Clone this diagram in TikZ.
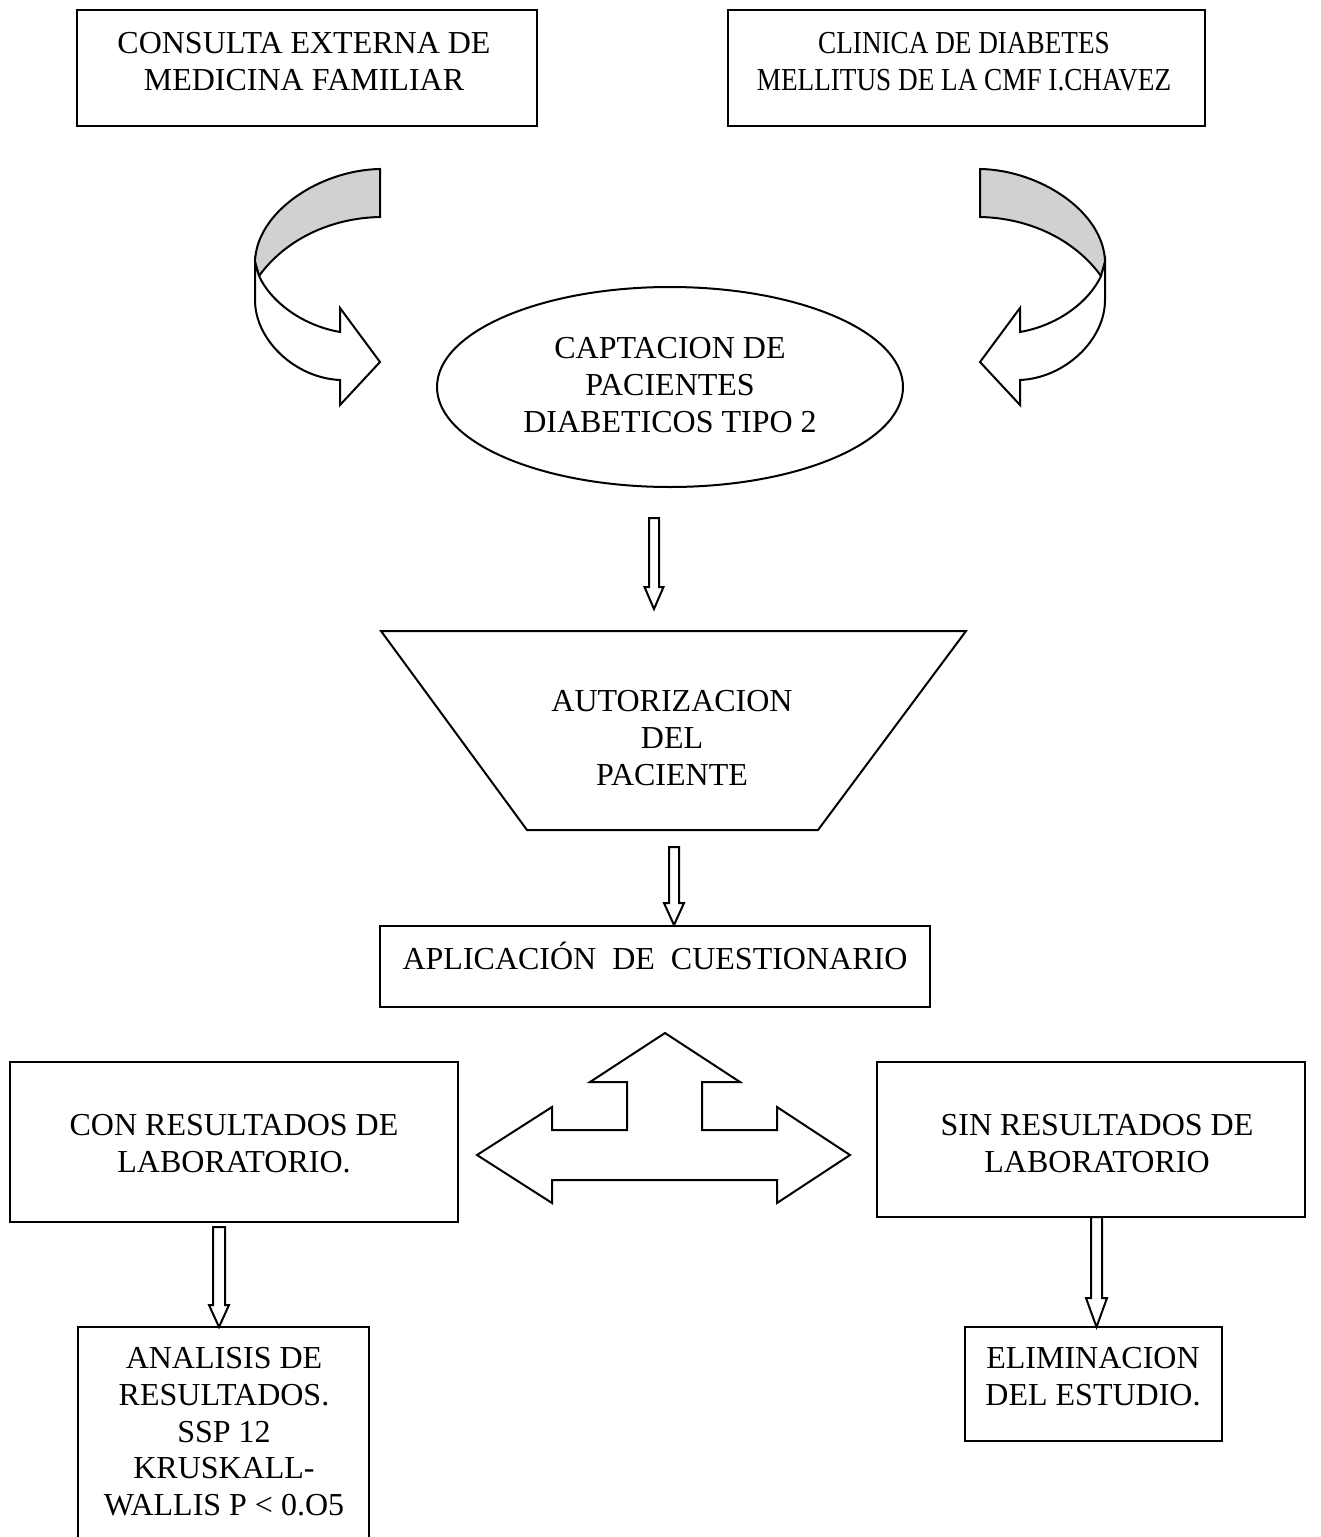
\documentclass[tikz,border=0pt]{standalone}
\usepackage{fontspec}
\setmainfont{Liberation Serif}
\newfontfamily\condfont{Liberation Serif}[FakeStretch=0.85]
\usetikzlibrary{fit}
\tikzset{
  lw/.style={line width=1.5pt},
  box/.style={draw, lw, inner sep=0pt},
  lbl/.style={align=center, inner sep=0pt, anchor=north, font=\fontsize{24}{27.6}\selectfont},
  shp/.style={draw, lw, fill=white, line join=miter},
  band/.style={draw, lw, fill=black!18},
  curvarr/.pic={
    \draw[band] (380,169) .. controls (320,170) and (256,212) .. (255,262) -- (259,276)
      .. controls (285,240) and (330,218) .. (380,217) -- cycle;
    \draw[shp] (255,262) -- (255,300) .. controls (255,340) and (295,378) .. (340,380)
      -- (340,405) -- (380,362) -- (340,308) -- (340,332)
      .. controls (300,325) and (270,300) .. (259,276) -- cycle;
  }
}
\newcommand\blockdown[6]{%
  \draw[shp] ({#1-#4},#2) -- ({#1+#4},#2) -- ({#1+#4},{#3-#6}) -- ({#1+#5},{#3-#6})
    -- (#1,#3) -- ({#1-#5},{#3-#6}) -- ({#1-#4},{#3-#6}) -- cycle;}
\begin{document}
\begin{tikzpicture}[x=0.75pt, y=-0.75pt]
\useasboundingbox (0,0) rectangle (1320,1537);

% top boxes
\node[box, fit={(77,10) (537,126)}] (b1) {};
\node[lbl] (t1) at (304,32) {CONSULTA EXTERNA DE\\MEDICINA FAMILIAR};
\node[box, fit={(728,10) (1205,126)}] (b2) {};
\node[lbl, font=\fontsize{24}{27.6}\condfont] (t2) at (964,32) {CLINICA DE DIABETES\\MELLITUS DE LA CMF I.CHAVEZ};

% curved arrows
\pic (cl) at (0,0) {curvarr};
\pic[xscale=-1] (cr) at (1360,0) {curvarr};

% ellipse
\draw[lw] (670,387) ellipse [x radius=174.75pt, y radius=75pt];
\node[lbl] (t3) at (670,337) {CAPTACION DE\\PACIENTES\\DIABETICOS TIPO 2};

% arrow 1
\blockdown{654}{518}{609}{5}{9.5}{22}

% trapezoid
\draw[lw, line join=miter] (381,631) -- (966,631) -- (818,830) -- (527,830) -- cycle;
\node[lbl] (t4) at (672,690) {AUTORIZACION\\DEL\\PACIENTE};

% arrow 2
\blockdown{674}{847}{925}{5}{10}{22}

% questionnaire box
\node[box, fit={(380,926) (930,1007)}] (b3) {};
\node[inner sep=0pt, anchor=base, font=\fontsize{24}{27.6}\selectfont] (t5) at (655,969) {APLICACIÓN~~DE~~CUESTIONARIO};

% triple arrow
\draw[shp] (665,1033) -- (740,1082) -- (702,1082) -- (702,1130) -- (777,1130) -- (777,1107)
  -- (850,1155) -- (777,1203) -- (777,1180) -- (552,1180) -- (552,1203) -- (477,1155)
  -- (552,1107) -- (552,1130) -- (627,1130) -- (627,1082) -- (590,1082) -- cycle;

% result boxes
\node[box, fit={(10,1062) (458,1222)}] (b4) {};
\node[lbl] (t6) at (234,1114) {CON RESULTADOS DE\\LABORATORIO.};
\node[box, fit={(877,1062) (1305,1217)}] (b5) {};
\node[lbl] (t7) at (1097,1114) {SIN RESULTADOS DE\\LABORATORIO};

% down arrows
\blockdown{219}{1227}{1327}{6}{10}{22}
\blockdown{1096.5}{1217}{1327}{5.5}{10.5}{29}

% bottom boxes
\node[box, fit={(78,1327) (369,1550)}] (b6) {};
\node[lbl] (t8) at (224,1347) {ANALISIS DE\\RESULTADOS.\\SSP 12\\KRUSKALL-\\WALLIS P < 0.O5};
\node[box, fit={(965,1327) (1222,1441)}] (b7) {};
\node[lbl] (t9) at (1093,1347) {ELIMINACION\\DEL ESTUDIO.};
\end{tikzpicture}
\end{document}
